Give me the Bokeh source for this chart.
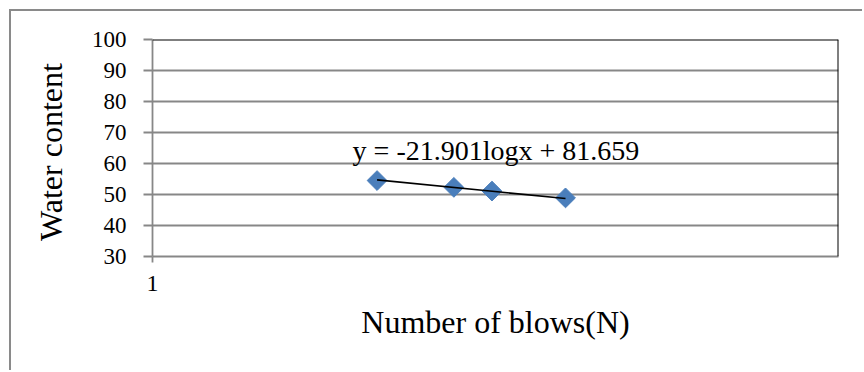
import numpy as np
from bokeh.plotting import figure
from bokeh.models import Range1d, FixedTicker, Span, Label
from bokeh.embed import file_html
from bokeh.resources import INLINE

# ---- data ----
blows = [17, 22, 25, 32]
water_content = [54.5, 52.3, 51.1, 48.9]
trend_slope = -21.901
trend_intercept = 81.659
equation_text = "y = -21.901logx + 81.659"
y_ticks = [30, 40, 50, 60, 70, 80, 90, 100]
x_title = "Number of blows(N)"
y_title = "Water  content"

FONT = "Liberation Serif"
GRID = "#878787"

p = figure(width=853, height=361, x_axis_type="log",
           x_range=Range1d(8, 80), y_range=Range1d(30, 100),
           output_backend="svg", toolbar_location=None,
           min_border_left=141, min_border_top=28,
           min_border_right=26, min_border_bottom=116)
p.margin = (9, 0, 0, 9)
p.styles = {"border-left": "2px solid #8a8a8a", "border-top": "2px solid #8a8a8a"}
p.outline_line_color = None
p.background_fill_color = "white"
p.border_fill_color = "white"

# grid
p.xgrid.visible = False
p.ygrid.ticker = FixedTicker(ticks=y_ticks)
p.ygrid.grid_line_color = GRID
p.ygrid.grid_line_width = 1.8

# axes
p.yaxis.ticker = FixedTicker(ticks=y_ticks)
p.xaxis.ticker = FixedTicker(ticks=[8])
p.xaxis.major_label_overrides = {8: "1"}
for ax in (p.xaxis, p.yaxis):
    ax.axis_line_color = GRID
    ax.axis_line_width = 1.8
    ax.major_tick_line_color = GRID
    ax.major_tick_line_width = 1.8
    ax.major_tick_in = 0
    ax.minor_tick_line_color = None
    ax.major_label_text_font = FONT
    ax.major_label_text_color = "black"
    ax.axis_label_text_font = FONT
    ax.axis_label_text_font_style = "normal"
    ax.axis_label_text_color = "black"
    ax.axis_label_text_font_size = "32px"
p.yaxis.major_tick_out = 9
p.xaxis.major_tick_out = 6
p.yaxis.major_label_text_font_size = "23px"
p.xaxis.major_label_text_font_size = "24px"
p.yaxis.major_label_standoff = 17
p.xaxis.major_label_standoff = 13
p.xaxis.axis_label = x_title
p.yaxis.axis_label = y_title
p.xaxis.axis_label_standoff = 10
p.yaxis.axis_label_standoff = 20

# plot-area border (top and right in black)
p.add_layout(Span(location=100, dimension="width", line_color="black", line_width=2))
p.add_layout(Span(location=80, dimension="height", line_color="black", line_width=2))

# data points
p.scatter(blows, water_content, marker="square", angle=np.pi / 4, size=14,
          fill_color="#4A7EBB", line_color="#4A7EBB")

# logarithmic trendline from the shown equation
tx = [min(blows), max(blows)]
ty = [trend_intercept + trend_slope * np.log10(v) for v in tx]
p.line(tx, ty, line_color="black", line_width=1.6)

p.add_layout(Label(x=15.66, y=64.2, text=equation_text, text_font=FONT,
                   text_font_size="28px", text_color="black",
                   text_baseline="alphabetic"))

open("out.html", "w").write(file_html(p, INLINE))
